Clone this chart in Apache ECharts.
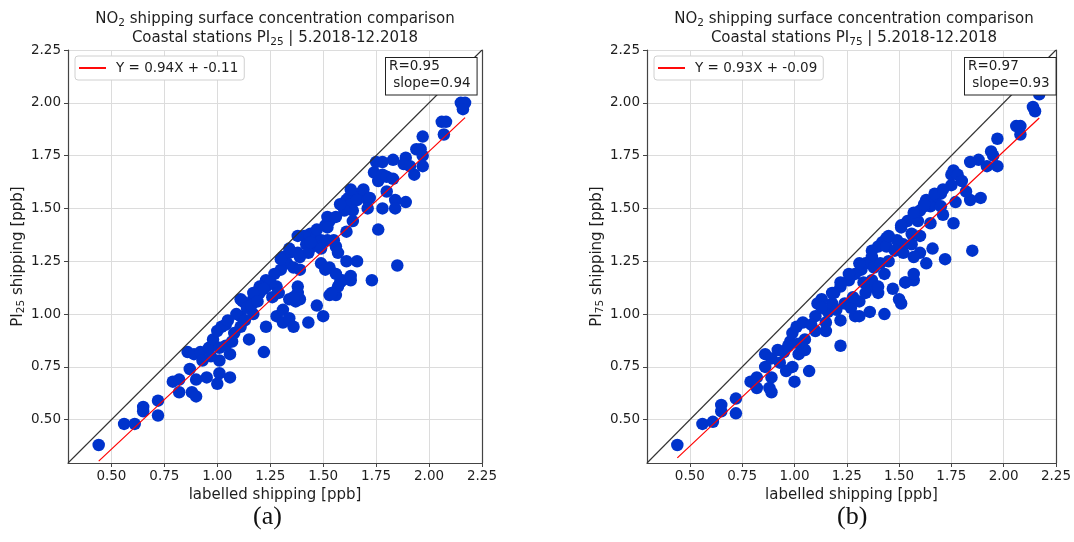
<!DOCTYPE html>
<html>
<head>
<meta charset="utf-8">
<script src="https://cdn.jsdelivr.net/npm/echarts@6/dist/echarts.min.js"></script>
<style>
  html, body { margin: 0; padding: 0; background: #fff; }
  #chart { width: 1074px; height: 542px; }
</style>
</head>
<body>
<div id="chart"></div>
<script>
// panel (a): PI25 vs labelled shipping
var xA = [0.44,0.56,0.61,0.65,0.65,0.72,0.72,0.79,0.82,0.82,
          0.87,0.88,0.90,0.90,0.86,0.89,0.92,0.93,0.96,0.95,
          0.98,1.00,1.00,1.01,1.02,1.04,1.06,1.06,1.01,1.01,
          1.04,1.08,1.11,1.11,1.12,1.15,1.22,1.23,1.17,1.17,
          1.20,1.23,1.28,1.31,1.31,1.34,1.36,1.34,1.37,1.39,
          1.38,1.43,1.47,1.50,1.53,1.56,1.57,1.59,1.63,1.73,
          2.15,2.17,2.16,2.06,2.08,2.07,1.97,1.94,1.96,1.97,
          1.97,1.93,1.89,1.88,1.91,1.83,1.78,1.75,1.74,1.76,
          1.78,1.80,1.83,1.80,1.84,1.89,1.84,1.78,1.76,1.85,
          1.69,1.67,1.64,1.62,1.61,1.63,1.66,1.71,1.72,1.71,
          1.64,1.60,1.64,1.61,1.66,1.63,1.61,1.58,1.54,1.56,
          1.57,1.53,1.52,1.56,1.51,1.52,1.55,1.49,1.46,1.44,
          1.41,1.42,1.45,1.49,1.52,1.43,1.49,1.51,1.53,1.56,
          1.39,1.31,1.34,1.38,1.33,1.36,1.39,1.30,1.27,1.23,
          1.20,1.17,1.28,1.38,1.36,1.11,1.34,1.30,1.38,1.25,
          1.22,1.14,1.09,1.05,1.13,1.16,1.19,1.26,1.29,1.63,
          1.58,1.47,1.44,1.07,0.97];
var yA = [0.38,0.48,0.48,0.56,0.54,0.59,0.52,0.68,0.69,0.63,
          0.74,0.63,0.61,0.69,0.82,0.81,0.82,0.78,0.84,0.70,
          0.88,0.92,0.67,0.72,0.94,0.95,0.70,0.81,0.78,0.84,
          0.85,0.91,0.99,0.94,1.06,0.88,0.82,0.94,1.00,1.07,
          1.10,1.13,0.99,1.02,0.96,0.98,0.94,1.07,1.06,1.07,
          1.10,0.96,1.04,0.99,1.09,1.09,1.13,1.16,1.16,1.16,
          2.00,2.00,1.97,1.91,1.91,1.85,1.84,1.78,1.78,1.75,
          1.70,1.66,1.74,1.71,1.70,1.73,1.72,1.72,1.67,1.63,
          1.66,1.65,1.64,1.58,1.54,1.53,1.50,1.50,1.40,1.23,
          1.59,1.57,1.56,1.55,1.54,1.52,1.54,1.54,1.55,1.50,
          1.49,1.49,1.44,1.39,1.25,1.18,1.25,1.15,1.10,1.32,
          1.29,1.44,1.46,1.46,1.42,1.41,1.35,1.35,1.37,1.38,
          1.37,1.33,1.32,1.31,1.35,1.29,1.24,1.21,1.22,1.19,
          1.27,1.27,1.29,1.29,1.24,1.22,1.21,1.21,1.19,1.16,
          1.13,1.10,1.13,1.13,1.08,1.07,1.31,1.26,1.37,1.15,
          1.12,1.03,1.00,0.97,0.97,1.04,1.06,1.08,1.10,1.59,
          1.52,1.40,1.34,0.87,0.80];

// panel (b): PI75 vs labelled shipping
var xB = [0.44,0.56,0.61,0.65,0.65,0.72,0.72,0.79,0.82,0.82,
          0.88,0.89,0.89,0.86,0.86,0.89,0.92,0.93,0.95,0.96,
          0.98,0.99,1.00,1.01,1.04,0.99,1.02,1.05,1.07,1.05,
          1.04,1.10,1.11,1.15,1.15,1.16,1.22,1.02,1.10,1.22,
          1.29,1.31,1.36,1.43,1.51,1.47,1.40,1.37,1.31,1.27,
          1.24,1.18,1.13,1.53,1.57,2.14,2.15,2.17,2.06,2.08,
          2.08,1.97,1.94,1.95,1.97,1.92,1.88,1.84,1.89,1.84,
          1.82,1.77,1.75,1.76,1.78,1.80,1.75,1.85,1.76,1.72,
          1.70,1.67,1.65,1.62,1.60,1.63,1.70,1.71,1.65,1.59,
          1.57,1.54,1.51,1.60,1.56,1.66,1.60,1.63,1.56,1.52,
          1.49,1.44,1.42,1.40,1.44,1.48,1.52,1.57,1.57,1.53,
          1.50,1.37,1.34,1.38,1.41,1.45,1.32,1.29,1.26,1.22,
          1.19,1.37,1.40,1.43,1.34,1.45,1.37,1.31,1.26,1.22,
          1.18,1.51,1.57,1.62,1.67,1.71,1.13,1.08,0.97,1.20,
          1.28,1.33];
var yB = [0.38,0.48,0.49,0.57,0.54,0.60,0.53,0.68,0.70,0.65,
          0.65,0.63,0.70,0.81,0.75,0.79,0.83,0.77,0.82,0.73,
          0.87,0.91,0.68,0.94,0.96,0.75,0.81,0.83,0.73,0.88,
          0.84,0.99,1.05,0.96,0.92,1.01,0.85,0.86,0.92,0.97,
          0.99,0.99,1.01,1.00,1.05,1.12,1.10,1.13,1.06,1.03,
          1.05,1.05,1.07,1.15,1.16,1.98,1.96,2.04,1.89,1.89,
          1.85,1.83,1.77,1.75,1.70,1.70,1.73,1.72,1.55,1.54,
          1.58,1.53,1.66,1.68,1.66,1.63,1.61,1.30,1.43,1.26,
          1.57,1.54,1.51,1.51,1.49,1.54,1.51,1.47,1.43,1.44,
          1.46,1.44,1.42,1.37,1.38,1.31,1.29,1.24,1.33,1.33,
          1.35,1.36,1.34,1.32,1.32,1.30,1.29,1.27,1.19,1.15,
          1.07,1.27,1.24,1.22,1.24,1.25,1.21,1.19,1.16,1.13,
          1.10,1.16,1.13,1.19,1.10,1.37,1.30,1.24,1.19,1.15,
          1.10,1.41,1.48,1.52,1.57,1.59,1.03,0.95,0.85,1.02,
          1.08,1.15];

var TICKS = [0.50, 0.75, 1.00, 1.25, 1.50, 1.75, 2.00, 2.25];
var AXIS_MIN = 0.295, AXIS_MAX = 2.25;
var FIT_A = [0.94, -0.11], FIT_B = [0.93, -0.09];
var R_VALUES = [0.95, 0.97];
var PI_NAMES = ['25', '75'];

var font = 'DejaVu Sans';
var txt = '#1e1e1e';
var blue = '#0033cc';

function pairs(xs, ys) {
    return xs.map(function (x, i) { return [x, ys[i]]; });
}
function fitLine(xs, fit) {
    var lo = Math.min.apply(null, xs), hi = Math.max.apply(null, xs);
    return [[lo, fit[0] * lo + fit[1]], [hi, fit[0] * hi + fit[1]]];
}
function fitName(fit) {
    return 'Y = ' + fit[0].toFixed(2) + 'X + ' + fit[1].toFixed(2);
}

var panels = [
    {left: 68, xs: xA, ys: yA, fit: FIT_A, r: R_VALUES[0], pi: PI_NAMES[0]},
    {left: 647, xs: xB, ys: yB, fit: FIT_B, r: R_VALUES[1], pi: PI_NAMES[1]}
];
var W = 414, H = 413;

var option = {
    animation: false,
    backgroundColor: '#fff',
    title: [], legend: [], grid: [], xAxis: [], yAxis: [], series: [], graphic: []
};

panels.forEach(function (p, i) {
    var cx = p.left + W / 2;
    option.title.push({
        text: 'NO{s|2} shipping surface concentration comparison\nCoastal stations PI{s|' + p.pi + '} | 5.2018-12.2018',
        left: cx, top: 10, textAlign: 'center', padding: 0,
        textStyle: {
            fontFamily: font, fontSize: 15, fontWeight: 'normal', color: txt, lineHeight: 19,
            rich: {s: {fontFamily: font, fontSize: 10.5, color: txt, verticalAlign: 'bottom', lineHeight: 19}}
        }
    });
    option.grid.push({left: p.left, top: 50, width: W, height: H});
    option.xAxis.push({
        type: 'value', gridIndex: i, min: AXIS_MIN, max: AXIS_MAX,
        name: 'labelled shipping [ppb]', nameLocation: 'middle', nameGap: 22,
        nameTextStyle: {fontFamily: font, fontSize: 15, color: txt},
        axisLine: {show: true, onZero: false, lineStyle: {color: '#444', width: 1.2}},
        axisTick: {show: true, length: 4, customValues: TICKS, lineStyle: {color: '#444'}},
        axisLabel: {customValues: TICKS, margin: 6, fontFamily: font, fontSize: 13.5, color: txt,
            formatter: function (v) { return v.toFixed(2); }},
        splitLine: {show: true, lineStyle: {color: '#dcdcdc', width: 1}}
    });
    option.yAxis.push({
        type: 'value', gridIndex: i, min: AXIS_MIN, max: AXIS_MAX,
        name: 'PI{s|' + p.pi + '} shipping [ppb]', nameLocation: 'middle', nameGap: 38,
        nameTextStyle: {fontFamily: font, fontSize: 15, color: txt,
            rich: {s: {fontFamily: font, fontSize: 10.5, color: txt, verticalAlign: 'bottom', lineHeight: 18}}},
        axisLine: {show: true, onZero: false, lineStyle: {color: '#444', width: 1.2}},
        axisTick: {show: true, length: 4, customValues: TICKS, lineStyle: {color: '#444'}},
        axisLabel: {customValues: TICKS, margin: 7, fontFamily: font, fontSize: 13.5, color: txt,
            formatter: function (v) { return v.toFixed(2); }},
        splitLine: {show: true, lineStyle: {color: '#dcdcdc', width: 1}}
    });
    // right spine
    option.yAxis.push({
        type: 'value', gridIndex: i, position: 'right', min: AXIS_MIN, max: AXIS_MAX,
        axisLine: {show: true, onZero: false, lineStyle: {color: '#444', width: 1.2}},
        axisTick: {show: false}, axisLabel: {show: false}, splitLine: {show: false}
    });
    var yIdx = i * 2;
    option.series.push({
        type: 'scatter', xAxisIndex: i, yAxisIndex: yIdx,
        data: pairs(p.xs, p.ys), symbolSize: 12.5,
        itemStyle: {color: blue, opacity: 1}, z: 2
    });
    option.series.push({
        type: 'line', xAxisIndex: i, yAxisIndex: yIdx,
        data: [[AXIS_MIN, AXIS_MIN], [AXIS_MAX, AXIS_MAX]], showSymbol: false,
        lineStyle: {color: '#333', width: 1.1}, z: 3, silent: true
    });
    var nm = fitName(p.fit);
    option.series.push({
        name: nm, type: 'line', xAxisIndex: i, yAxisIndex: yIdx,
        data: fitLine(p.xs, p.fit), showSymbol: false,
        lineStyle: {color: '#ff0000', width: 1.2}, itemStyle: {color: '#ff0000'}, z: 4
    });
    option.legend.push({
        data: [nm], left: p.left + 7, top: 56,
        icon: 'path://M0,0H28V2H0Z', itemWidth: 27, itemHeight: 2,
        padding: [5, 6, 5, 4],
        backgroundColor: '#fff', borderColor: '#d0d0d0', borderWidth: 1, borderRadius: 3,
        textStyle: {fontFamily: font, fontSize: 13.5, color: txt, padding: [0, 0, 0, 5]}
    });
    option.graphic.push({
        type: 'text', left: p.left + W - 97, top: 57, z: 100,
        style: {
            text: 'R=' + p.r.toFixed(2) + '\n slope=' + p.fit[0].toFixed(2),
            font: '13.5px "DejaVu Sans"', fill: txt, lineHeight: 16.7,
            backgroundColor: '#fff', borderColor: '#222', borderWidth: 1, padding: [0, 6, 3, 3]
        }
    });
    option.graphic.push({
        type: 'text', left: cx - 22 + (i ? 5 : 0), top: 504,
        style: {text: i ? '(b)' : '(a)', font: '26px "Liberation Serif"', fill: '#111'}
    });
});

var chart = echarts.init(document.getElementById('chart'), null, {renderer: 'canvas'});
chart.setOption(option);
</script>
</body>
</html>
